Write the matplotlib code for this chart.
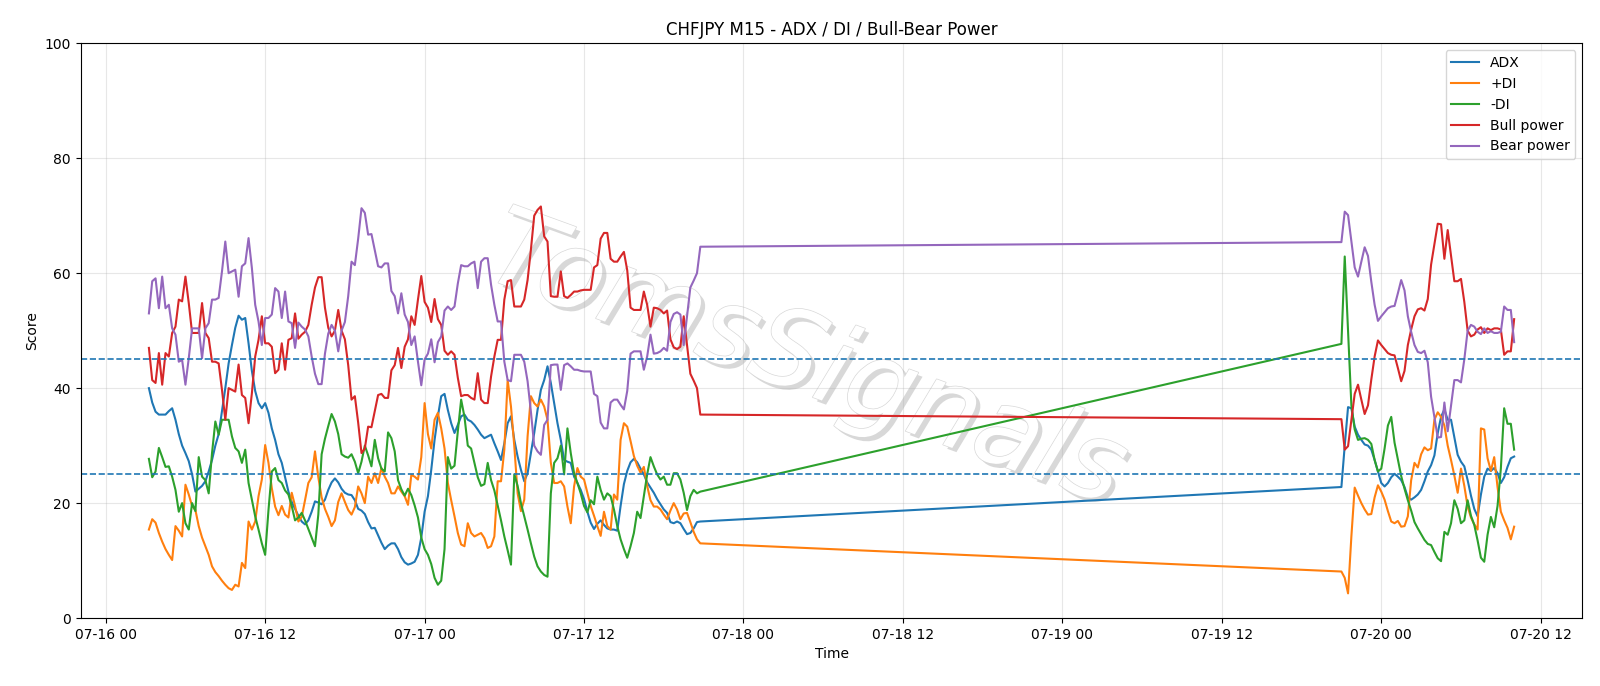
import matplotlib
matplotlib.use("Agg")
import matplotlib.pyplot as plt
import matplotlib.dates as mdates
import matplotlib.patheffects as pe
import numpy as np
import pandas as pd

# ---- time axes of the two trading sessions (15-minute bars) ----
seg1_start = "2025-07-16 03:15"
seg1_len = 167
seg2_start = "2025-07-19 21:00"
seg2_len = 53

# ---- session 1 values ----
adx_1 = [40, 37.5, 35.9, 35.4, 35.4, 35.4, 36, 36.5, 34.5, 32, 30, 28.7, 27.3, 25, 22, 22.5, 23, 23.8, 25.5, 27.5,
         30, 32, 36, 40, 44.3, 47.5, 50.5, 52.6, 51.9, 52.2, 47.8, 43, 39.5, 37.4, 36.5, 37.4, 35.7, 33, 31, 28.5,
         27, 24.5, 22, 20.2, 19, 17.8, 16.8, 16.3, 17, 18.5, 20.3, 20.1, 19.8, 20.6, 22.3, 23.6, 24.3, 23.6, 22.5, 21.8,
         21.5, 21.4, 20.5, 19, 18.7, 18.1, 16.7, 15.6, 15.7, 14.4, 13.1, 12, 12.6, 13, 13, 12, 10.6, 9.7, 9.3, 9.5,
         9.8, 11, 14, 18.5, 21.2, 25.8, 31, 35.1, 38.6, 39, 36.2, 33.9, 32.2, 33.6, 35.1, 35.4, 34.5, 34.2, 33.6, 32.8,
         31.9, 31.3, 31.6, 31.9, 30.4, 29, 27.5, 30.4, 33.9, 35.1, 31, 28.1, 25.8, 23.8, 25.2, 28.7, 32.2, 36.2, 39.7, 41.4,
         43.8, 40.9, 37.4, 33.9, 31, 27.5, 27.2, 27, 24.6, 23.5, 22.3, 20.7, 18.5, 16.6, 15.5, 16.4, 17, 16.2, 15.6, 15.4,
         15.4, 15.2, 19.5, 23.3, 25.6, 27.1, 27.7, 27.1, 26, 25, 23.6, 22.7, 21.8, 20.7, 19.8, 18.9, 18.3, 16.7, 16.5, 16.8,
         16.5, 15.5, 14.6, 14.8, 15.6, 16.7, 16.8]
pdi_1 = [15.4, 17.2, 16.6, 14.8, 13.3, 12, 11, 10.1, 16, 15.2, 14.2, 23.2, 21.5, 19.5, 18.8, 16, 14, 12.5, 11, 9,
         8, 7.3, 6.5, 5.8, 5.2, 4.9, 5.8, 5.5, 9.6, 8.7, 16.8, 15.4, 16.8, 21.2, 24.1, 30.1, 27, 22.6, 19.4, 17.9,
         19.5, 18, 17.5, 21.8, 19.5, 16.8, 17.6, 20.5, 23.5, 24.5, 29, 24.5, 21, 19, 17.6, 16, 17, 20.2, 21.7, 20.2,
         18.8, 18, 19.3, 22.9, 21.7, 20, 24.6, 23.5, 25.2, 23.5, 26.1, 24.6, 23.5, 21.7, 21.7, 22.9, 22, 21.2, 19.7, 24.9,
         24.6, 24.1, 28, 37.4, 32, 29.5, 34.5, 35.7, 33, 29.5, 23.5, 20.5, 17.7, 14.8, 12.8, 12.5, 16.5, 14.8, 14.2, 14.5,
         14.8, 13.9, 12.2, 12.5, 14.2, 23.8, 23.8, 29.3, 41.4, 36.8, 29.9, 21.7, 18.6, 20.6, 31.6, 38.6, 37.4, 36.8, 38, 36.8,
         34.5, 27, 23.5, 23.5, 23.8, 22.9, 19.4, 16.5, 22.9, 26.1, 24.6, 24.1, 21.8, 19.5, 17.8, 16, 14.3, 18.5, 16, 15.4,
         21.5, 20.6, 31, 33.9, 33.3, 30.8, 28.2, 26.5, 25.3, 26.3, 23, 20.5, 19.4, 19.4, 18.9, 18, 17.2, 18.7, 20, 18.9,
         17.2, 18.2, 18.3, 16.7, 15, 13.7, 13]
mdi_1 = [27.7, 24.5, 25.5, 29.6, 28, 26.3, 26.4, 24.6, 22.3, 18.5, 20, 16.5, 15.4, 20, 18.6, 28, 24.6, 24, 21.7, 28.7,
         34.2, 31.9, 34.5, 34.5, 34.5, 31.6, 29.6, 29, 27, 29.3, 23.5, 20.6, 17.7, 15.4, 13, 11, 18.8, 25.5, 26.1, 24,
         23.5, 22.2, 21.5, 19.5, 17, 17.5, 18.3, 17, 15.5, 14, 12.5, 18, 28.5, 31.2, 33.4, 35.5, 34.2, 32, 28.5, 28.1,
         27.9, 28.5, 27.2, 25.2, 27.2, 30, 28.3, 26.4, 31, 27.8, 26, 25.5, 32.3, 31.3, 29, 24, 22.4, 21.3, 22.5, 21.4,
         19.6, 17.5, 14, 12, 11, 9.4, 7, 5.8, 6.5, 12, 28, 26, 26.5, 32.5, 38, 35, 30, 29.5, 27, 24.5,
         23, 23.3, 27, 24, 22.2, 19.6, 17, 14.2, 11.8, 9.3, 25, 23, 20, 17.7, 15.4, 13, 10.7, 9, 8.1, 7.5,
         7.2, 21.7, 27, 27.8, 30, 25, 33, 28.7, 25.2, 23.5, 21.7, 19.5, 18.4, 20.5, 19.8, 24.6, 22.3, 20.6, 21.7, 21.2,
         18.9, 16, 13.7, 12, 10.5, 12.5, 14.8, 18.5, 17.4, 21.2, 25, 28, 26.4, 25, 24.1, 24.6, 23.2, 23.2, 25.2, 25.2,
         24.1, 21.8, 18.8, 21.2, 22.3, 21.7, 22]
bull_1 = [47, 41.4, 40.9, 46.1, 40.6, 46.1, 45.5, 49.6, 50.7, 55.4, 55.1, 59.4, 54.8, 49.6, 49.6, 49.6, 54.8, 49.6, 48.7, 44.6,
          44.6, 44.3, 39.7, 34.5, 40, 39.7, 39.4, 44.1, 38.8, 38.3, 33.9, 39.1, 45.5, 48.4, 52.5, 47.8, 47.8, 47.2, 42.6, 43.2,
          47.8, 43.2, 48.4, 48.7, 53, 48.6, 49.3, 49.8, 51, 54.5, 57.5, 59.3, 59.3, 54, 50.5, 49, 50, 53.6, 50, 48.5,
          44, 38, 38.6, 34, 28.7, 29.5, 33.3, 33.2, 36, 38.8, 39, 38.3, 38.3, 43.1, 44, 47, 43.5, 47.2, 48.5, 52.5,
          51, 55.4, 59.5, 55, 54, 51.5, 55.5, 52, 51, 46.5, 45.8, 46.4, 45.8, 41.8, 38.6, 38.8, 38.8, 38.3, 38, 42.6,
          38, 37.4, 37.4, 42, 45.5, 48.4, 48.4, 55.4, 58.6, 58.8, 54.2, 54.2, 54.2, 55.4, 58.8, 64.1, 70, 71, 71.6, 66.4,
          65.5, 56, 55.9, 55.9, 60.3, 56, 55.7, 56.2, 56.8, 56.8, 57, 57.1, 57.1, 57.1, 61, 61.4, 66, 67, 67, 62.5,
          62, 62, 62.9, 63.7, 60.5, 54, 53.6, 53.6, 53.6, 56.8, 54.5, 50.7, 54, 53.9, 53.6, 53, 53.5, 48.5, 47.1, 46.8,
          47.2, 52.5, 47.5, 42.5, 41.3, 40, 35.4]
bear_1 = [53, 58.6, 59.1, 53.9, 59.4, 53.9, 54.5, 50.4, 49.3, 44.6, 44.9, 40.6, 45.2, 50.4, 50.4, 50.4, 45.2, 50.4, 51.3, 55.4,
          55.4, 55.7, 60.3, 65.5, 60, 60.3, 60.6, 55.9, 61.2, 61.7, 66.1, 60.9, 54.5, 51.6, 47.5, 52.2, 52.2, 52.8, 57.4, 56.8,
          52.2, 56.8, 51.6, 51.3, 47, 51.4, 50.7, 50.2, 49, 45.5, 42.5, 40.7, 40.7, 46, 49.5, 51, 50, 46.4, 50, 51.5,
          56, 62, 61.4, 66, 71.3, 70.5, 66.7, 66.8, 64, 61.2, 61, 61.7, 61.7, 56.9, 56, 53, 56.5, 52.8, 51.5, 47.5,
          49, 44.6, 40.5, 45, 46, 48.5, 44.5, 48, 49, 53.5, 54.2, 53.6, 54.2, 58.2, 61.4, 61.2, 61.2, 61.7, 62, 57.4,
          62, 62.6, 62.6, 58, 54.5, 51.6, 51.6, 44.6, 41.4, 41.2, 45.8, 45.8, 45.8, 44.6, 41.2, 35.9, 30, 29, 28.4, 33.6,
          34.5, 44, 44.1, 44.1, 39.7, 44, 44.3, 43.8, 43.2, 43.2, 43, 42.9, 42.9, 42.9, 39, 38.6, 34, 33, 33, 37.5,
          38, 38, 37.1, 36.3, 39.5, 46, 46.4, 46.4, 46.4, 43.2, 45.5, 49.3, 46, 46.1, 46.4, 47, 46.5, 51.5, 52.9, 53.2,
          52.8, 47.5, 52.5, 57.5, 58.7, 60, 64.6]

# ---- session 2 values ----
adx_2 = [22.8, 30, 36.7, 36.5, 33.3, 31.9, 31, 30.2, 30, 29.3, 27.5, 25.5, 23.5, 22.9, 23.5, 24.5, 25.1, 24.6, 24, 22.8,
         21, 20.6, 21, 21.5, 22.3, 23.8, 25.5, 26.6, 28.3, 32.2, 35, 36.3, 34.5, 34.5, 31.4, 28.4, 27.2, 26.4, 24, 21.3,
         19, 17.7, 21.5, 24.6, 26, 25.6, 26.1, 25.2, 23.5, 24.5, 26.3, 27.8, 28.1]
pdi_2 = [8.1, 7, 4.3, 14.2, 22.7, 21.3, 20, 18.9, 18, 18.1, 21, 23.1, 22, 20.6, 18.6, 16.8, 16.5, 16.9, 15.9, 16,
         17.7, 24, 27, 26.2, 28.5, 29.7, 29.2, 29.5, 34.5, 35.8, 35, 33.5, 30, 27.5, 24.8, 21.8, 26, 23, 19.4, 17.5,
         16.3, 15.4, 33, 32.8, 27.8, 25.6, 28, 22.8, 18.5, 17, 15.7, 13.7, 15.9]
mdi_2 = [47.7, 62.9, 50, 37, 32.8, 31, 31.2, 31.3, 31, 30.3, 27.5, 25.5, 26, 29.5, 33.5, 35, 30.5, 27.6, 24.7, 22.5,
         20.5, 18.7, 16.7, 15.6, 14.6, 13.6, 12.9, 12.7, 11.5, 10.4, 9.9, 15, 14.5, 16.5, 20.5, 19, 16.5, 17, 20.5, 17.8,
         16.2, 13.5, 10.5, 9.8, 14.5, 17.6, 15.8, 19.5, 26, 36.5, 33.8, 33.8, 29.3]
bull_2 = [34.6, 29.3, 29.9, 34.5, 39, 40.6, 38, 35.5, 37, 41.5, 45.5, 48.3, 47.5, 46.8, 46.1, 45.8, 45.7, 43.5, 41.2, 43,
          47.5, 50.2, 52.5, 53.7, 53.9, 53.5, 55.5, 61.5, 65, 68.6, 68.5, 62.5, 67.5, 63, 58.6, 58.6, 59, 55, 50, 49,
          49.3, 50.2, 50.6, 49.6, 50.4, 50.1, 50.4, 50.4, 50.2, 45.8, 46.4, 46.4, 52]
bear_2 = [65.4, 70.7, 70.1, 65.5, 61, 59.4, 62, 64.5, 63, 58.5, 54.5, 51.7, 52.5, 53.2, 53.9, 54.2, 54.3, 56.5, 58.8, 57,
          52.5, 49.8, 47.5, 46.3, 46.1, 46.5, 44.5, 38.5, 35, 31.4, 31.5, 37.5, 32.5, 37, 41.4, 41.4, 41, 45, 50, 51,
          50.7, 49.8, 49.4, 50.4, 49.6, 49.9, 49.6, 49.6, 49.8, 54.2, 53.6, 53.6, 48]

threshold_low = 25
threshold_high = 45

title = "CHFJPY M15 - ADX / DI / Bull-Bear Power"
watermark = "TomsSignals"

times = pd.date_range(seg1_start, periods=seg1_len, freq="15min").append(
    pd.date_range(seg2_start, periods=seg2_len, freq="15min"))
series = [
    ("ADX", adx_1 + adx_2),
    ("+DI", pdi_1 + pdi_2),
    ("-DI", mdi_1 + mdi_2),
    ("Bull power", bull_1 + bull_2),
    ("Bear power", bear_1 + bear_2),
]

fig = plt.figure(figsize=(16, 6.86), dpi=100)
ax = fig.add_subplot(111)
fig.subplots_adjust(left=0.0504, right=0.989, bottom=0.099, top=0.937)

for label, vals in series:
    ax.plot(times, vals, label=label, linewidth=1.5)

ax.axhline(threshold_high, linestyle="--", linewidth=1.2, color="C0")
ax.axhline(threshold_low, linestyle="--", linewidth=1.2, color="C0")

ax.set_ylim(0, 100)
ax.xaxis.set_major_locator(mdates.HourLocator(byhour=[0, 12]))
ax.xaxis.set_major_formatter(mdates.DateFormatter("%m-%d %H"))
ax.grid(True, alpha=0.3)
ax.set_title(title, fontsize=12)
ax.set_xlabel("Time")
ax.set_ylabel("Score")
ax.legend(loc="upper right")

ax.text(0.483, 0.445, watermark, transform=ax.transAxes, fontsize=78, rotation=-20,
        style="italic", color="white", ha="center", va="center", zorder=0.5,
        path_effects=[pe.SimplePatchShadow(offset=(3, -3), shadow_rgbFace="#999999", alpha=0.38),
                      pe.withStroke(linewidth=1.0, foreground="#d8d8d8")])

fig.savefig("out.png", dpi=100)
